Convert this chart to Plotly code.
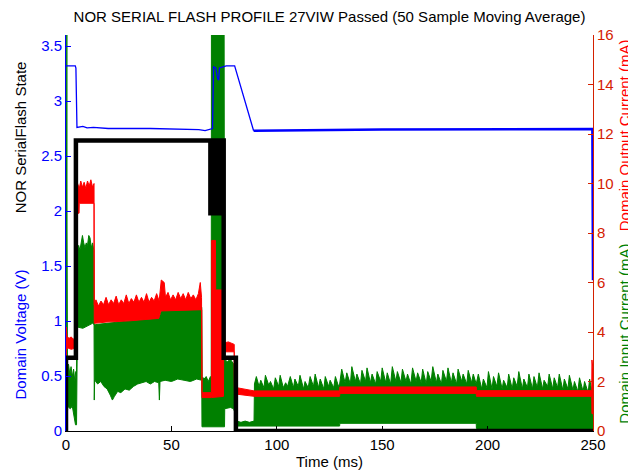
import plotly.graph_objects as go

# time in ms; currents in mA (right axis); voltage and state in V (left axis)
green_top_t = [0, 0.05, 0.4, 0.5, 0.7, 1.2, 1.8, 2.4, 3.0, 3.6, 4.2, 4.6, 5.0, 5.4,
               6.0, 6.6, 7.2, 7.8, 8.4, 9.0, 9.6, 10.2, 10.8, 11.4, 12.0, 12.6, 13.2, 13.4,
               14, 30, 44, 45.5, 64.4, 64.6, 65.5, 66.5, 67.5, 68.5, 68.9, 69.0, 75.0, 75.2,
               76.5, 78, 79.5, 80.3, 80.5, 81, 83, 85, 87, 89.2, 89.4,
               90.3, 91.6, 92.4, 93.9, 94.6, 96.2, 97, 98.5, 99.3, 100.9, 101.6, 103.1, 104.2, 105.1,
               106.4, 107.9, 108.6, 110.2, 111.0, 112.7, 113.4, 114.9, 115.8, 117.4, 118.2, 119.8,
               120.6, 122.3, 123.0, 124.6, 125.3, 127.0, 127.8, 129.3, 129.8,
               130.8, 132.4, 133.2, 134.9, 135.6, 137.3, 138.0, 139.7, 140.4, 142.1, 142.8, 144.4,
               145.2, 146.9, 147.6, 149.3, 150.0, 151.7, 152.4, 154.0, 154.8, 156.5, 157.2, 158.9,
               159.6, 161.3, 162.0, 163.6, 164.4, 166.1, 166.8, 168.5, 169.2, 170.9, 171.6, 173.2,
               174.0, 175.7, 176.4, 178.1, 178.8, 180.5, 181.2, 182.8, 183.6, 185.3, 186.0, 187.7,
               188.4, 190.1, 190.8, 192.4, 193.2, 194.6,
               195.6, 197.2, 198.0, 199.7, 200.4, 202.1, 202.8, 204.4, 205.2, 206.9, 207.6, 209.3,
               210.0, 211.7, 212.4, 214.0, 214.8, 216.5, 217.2, 218.9, 219.6, 221.3, 222.0, 223.6,
               224.4, 226.1, 226.8, 228.5, 229.2, 230.9, 231.6, 233.2, 234.0, 235.7, 236.4, 238.1,
               238.8, 240.5, 241.2, 242.8, 243.6, 245.3, 246.0, 247.7, 248.4, 249.5, 250]
green_top = [0, 17, 17, 8.0, 2.6, 2.7, 2.3, 2.6, 2.2, 2.5, 2.0, 2.4, 2.4, 7.2,
             7.5, 7.3, 7.7, 7.9, 7.6, 7.4, 7.6, 7.5, 7.9, 7.8, 7.4, 7.6, 7.3, 4.3,
             4.3, 4.45, 4.55, 4.9, 5.0, 2.2, 2.1, 2.2, 2.0, 2.2, 2.1, 17, 17, 2.9,
             2.8, 2.9, 2.7, 2.8, 0.45, 0.4, 0.35, 0.4, 0.35, 0.4, 1.9,
             2.2, 1.8, 2.05, 1.75, 2.25, 1.85, 2.0, 1.7, 2.15, 1.8, 2.25, 1.75, 1.95, 1.8,
             2.2, 1.75, 2.1, 1.8, 2.25, 1.7, 2.0, 1.75, 2.2, 1.8, 2.3, 1.75,
             2.1, 1.7, 2.2, 1.8, 2.05, 1.75, 2.2, 1.8, 1.9,
             2.5, 1.95, 2.35, 1.9, 2.6, 2.0, 2.3, 1.9, 2.45, 2.0, 2.55, 1.95,
             2.3, 1.9, 2.4, 2.0, 2.55, 1.95, 2.35, 1.9, 2.6, 2.0, 2.4, 1.95,
             2.5, 2.0, 2.3, 1.9, 2.55, 2.0, 2.35, 1.95, 2.5, 1.9, 2.4, 2.0,
             2.6, 1.95, 2.3, 1.9, 2.45, 2.0, 2.55, 1.95, 2.35, 1.9, 2.5, 2.0,
             2.3, 1.9, 2.45, 1.95, 2.3, 1.9,
             2.3, 1.7, 2.1, 1.75, 2.4, 1.7, 2.2, 1.8, 2.35, 1.7, 2.05, 1.75,
             2.3, 1.7, 2.15, 1.8, 2.4, 1.7, 2.1, 1.75, 2.3, 1.7, 2.2, 1.75,
             2.35, 1.7, 2.05, 1.8, 2.3, 1.7, 2.15, 1.75, 2.3, 1.65, 2.1, 1.7,
             2.25, 1.65, 2.0, 1.6, 2.15, 1.6, 2.0, 1.55, 2.1, 1.6, 0.6]

green_bot_t = [0, 0.5, 0.8, 2.0, 3.0, 3.8, 4.5, 5.0, 5.4, 8, 10, 12.6, 13.3, 13.4, 13.6,
               15, 16.5, 18, 19.5, 21, 22, 23, 24.5, 26, 28, 30, 32, 34, 36, 38, 40, 42, 44,
               44.3, 44.6, 47, 50, 53, 56, 59, 62, 64.4, 64.5, 69, 75.2, 75.3, 78, 79.5, 80.3,
               80.5, 89.3, 129.8, 129.9, 194.6, 194.7, 249.5, 250]
green_bot = [0, 0.3, 1.0, 0.9, 1.0, 0.5, 0.25, 0.25, 4.2, 4.15, 4.25, 4.35, 4.3, 1.25, 2.06,
             1.9, 2.0, 1.8, 1.7, 1.45, 1.25, 1.4, 1.6, 1.55, 1.7, 1.65, 1.8, 1.9, 1.95, 2.0, 1.9, 2.0, 1.95,
             1.25, 2.0, 2.05, 2.0, 2.1, 2.05, 2.0, 2.1, 2.05, 0.17, 0.17, 0.17, 0.9, 0.95, 0.9, 0.7,
             0.2, 0.2, 0.2, 0.31, 0.31, 0.1, 0.1, 0.1]

red_top_t = [0, 0.1, 0.5, 1.5, 2.5, 3.5, 4.4, 4.6,
             5.5, 6.3, 7.0, 7.8, 8.6, 9.4, 10.2, 11, 11.8, 12.6, 13.3, 13.4,
             14.2, 15.4, 16.6, 17.8, 19, 20.2, 21.4, 22.6, 23.8, 25, 26.2, 27.4, 28.6, 29.8,
             31, 32.2, 33.4, 34.6, 35.8, 37, 38.2, 39.4, 40.6, 41.8, 43, 44.2, 45.2, 46.6,
             47.2, 48.4, 49.6, 50.8, 52, 53.2, 54.4, 55.6, 56.8, 58, 59.2, 60.4, 61.6, 62.8,
             63.7, 64.3, 64.5, 69.0, 69.1, 70.9, 71.0, 74.6, 74.7, 77, 79.8, 79.9,
             81, 85, 89.3, 129.8, 129.9, 194.6, 194.7, 249.4, 249.5, 250]
red_top = [0, 4.2, 3.8, 3.75, 3.8, 3.7, 3.8, 9.9,
           10.0, 9.8, 10.1, 9.85, 10.05, 9.8, 10.1, 9.9, 10.15, 9.85, 10.0, 5.1,
           5.3, 5.05, 5.25, 5.1, 5.4, 5.1, 5.3, 5.15, 5.45, 5.1, 5.3, 5.15, 5.5, 5.15,
           5.35, 5.2, 5.5, 5.2, 5.4, 5.2, 5.55, 5.2, 5.4, 5.25, 5.55, 5.25, 6.1, 6.0,
           5.4, 5.6, 5.3, 5.5, 5.3, 5.6, 5.35, 5.55, 5.3, 5.6, 5.35, 5.5, 5.3, 5.55,
           6.0, 5.4, 1.55, 1.55, 7.7, 7.7, 5.7, 5.7, 3.55, 3.6, 3.5, 1.75,
           1.75, 1.7, 1.62, 1.62, 1.78, 1.78, 1.63, 1.63, 2.87, 2.5]

red_bot_t = [0, 0.1, 1, 2.5, 4.4, 4.6, 6.2, 6.3, 13.3, 13.4, 19, 30, 44, 45, 64.4, 64.5,
             69, 74.7, 74.8, 79.8, 79.9, 89.3, 129.8, 129.9, 194.6, 194.7, 249.4, 249.5, 250]
red_bot = [0, 3.3, 3.35, 3.3, 3.35, 8.8, 8.8, 9.2, 9.2, 4.35, 4.4, 4.45, 4.55, 4.85, 4.9, 1.35,
           1.35, 1.4, 3.2, 3.2, 1.5, 1.4, 1.4, 1.52, 1.52, 1.4, 1.4, 0.7, 0.7]

volt_t = [0, 4.4, 4.7, 4.9, 5.1, 5.2, 8, 10, 13, 20, 40, 60, 63, 66, 68, 69.5, 70, 71, 72,
          72.4, 72.8, 74, 76, 80, 89, 150, 249.7, 250]
volt = [3.32, 3.32, 3.3, 3.13, 3.1, 2.76, 2.77, 2.755, 2.76, 2.75, 2.75, 2.745, 2.74, 2.73,
        2.74, 2.75, 3.31, 3.3, 3.2, 3.19, 3.3, 3.31, 3.32, 3.32, 2.73, 2.74, 2.745, 1.37]

state_t = [0, 0, 4.7, 68.5, 68.9, 69.3, 69.7, 70.1, 70.5, 70.9, 71.3, 71.7, 72.1, 72.5,
           72.9, 73.3, 73.7, 74.1, 74.5, 74.8, 80.6, 250]
state = [0, 0.667, 2.64, 1.98, 2.64, 1.98, 2.64, 1.98, 2.64, 1.98, 2.64, 1.98, 2.64, 1.98,
         2.64, 1.98, 2.64, 1.98, 2.64, 0.667, 0, 0]

x_ticks = [0, 50, 100, 150, 200, 250]
volt_ticks = [0, 0.5, 1, 1.5, 2, 2.5, 3, 3.5]
ma_ticks = [0, 2, 4, 6, 8, 10, 12, 14, 16]

GREEN = "#008000"
RED = "#ff0000"
RED_AX = "#d42000"
BLUE = "#0000ff"
FONT = "Liberation Sans, Arial, sans-serif"

# the page body adds an 8 px margin, so the figure is drawn 8 px smaller
W, H = 628, 464

fig = go.Figure()


def band(t_lo, lo, t_hi, hi, color):
    fig.add_trace(go.Scatter(x=t_lo, y=lo, mode="lines", yaxis="y",
                             line=dict(color=color, width=1)))
    fig.add_trace(go.Scatter(x=t_hi, y=hi, mode="lines", yaxis="y",
                             line=dict(color=color, width=1),
                             fill="tonexty", fillcolor=color))


band(green_bot_t, green_bot, green_top_t, green_top, GREEN)
band(red_bot_t, red_bot, red_top_t, red_top, RED)

# the settled voltage after ~89 ms is noisy, so it reads as a thicker line
split = volt_t.index(89)
fig.add_trace(go.Scatter(x=volt_t[:split + 1], y=volt[:split + 1], mode="lines", yaxis="y2",
                         line=dict(color=BLUE, width=1.3)))
fig.add_trace(go.Scatter(x=volt_t[split:], y=volt[split:], mode="lines", yaxis="y2",
                         line=dict(color=BLUE, width=2.5)))
fig.add_trace(go.Scatter(x=state_t, y=state, mode="lines", yaxis="y2",
                         line=dict(color="black", width=4.5, shape="hv")))

axis_common = dict(showgrid=False, zeroline=False, showline=True, linewidth=1,
                   ticks="inside", ticklen=5, automargin=False)

fig.update_layout(
    width=W, height=H,
    margin=dict(l=58, r=43, t=27, b=41, autoexpand=False),
    paper_bgcolor="white", plot_bgcolor="white",
    showlegend=False,
    font=dict(family=FONT, size=15, color="black"),
    title=dict(text="NOR SERIAL FLASH PROFILE 27VIW Passed (50 Sample Moving Average)",
               x=0.5, xref="paper", xanchor="center", y=1 - 9 / H, yanchor="middle",
               font=dict(size=15, color="black")),
    xaxis=dict(range=[0, 250], tickvals=x_ticks, linecolor="black", tickcolor="black",
               tickfont=dict(size=15, color="black"), **axis_common),
    yaxis=dict(range=[0, 16], tickvals=ma_ticks, side="right", linecolor=RED_AX,
               tickcolor=RED_AX, tickfont=dict(size=15, color=RED_AX), **axis_common),
    yaxis2=dict(range=[0, 3.6], tickvals=volt_ticks, side="left", overlaying="y",
                linecolor=BLUE, tickcolor=BLUE, tickfont=dict(size=15, color=BLUE),
                **axis_common),
)

titles = [
    ("NOR SerialFlash State", -0.087, 0.742, "black", -90),
    ("Domain Voltage (V)", -0.087, 0.244, BLUE, -90),
    ("Domain Output Current (mA)", 1.059, 0.747, RED, -90),
    ("Domain Input Current (mA)", 1.059, 0.246, GREEN, -90),
    ("Time (ms)", 0.5, -0.078, "black", 0),
]
for text, x, y, color, angle in titles:
    fig.add_annotation(text=text, x=x, y=y, xref="paper", yref="paper",
                       xanchor="center", yanchor="middle", textangle=angle,
                       showarrow=False, font=dict(size=15, color=color))

fig.write_html("out.html")
